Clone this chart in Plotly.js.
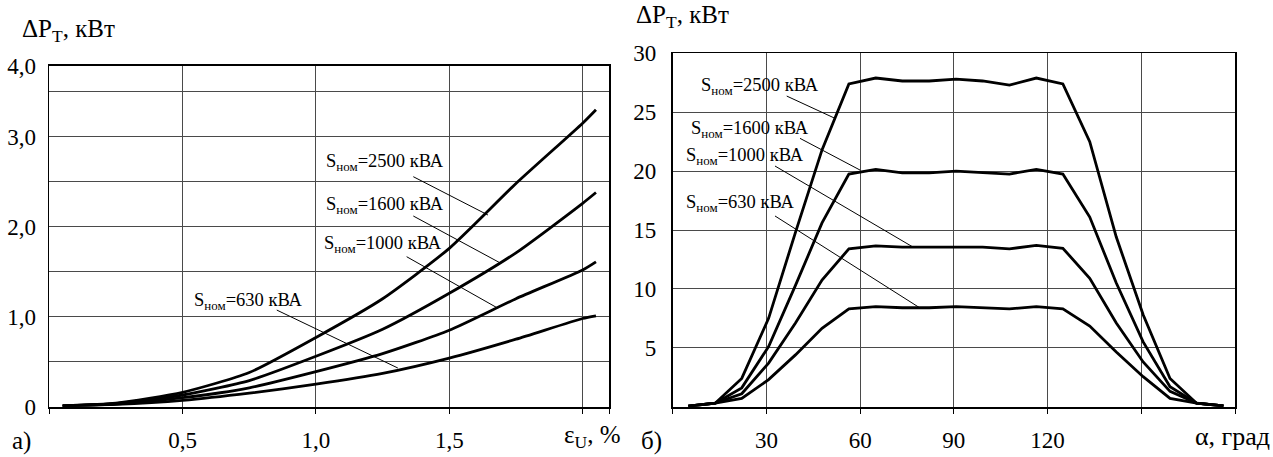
<!DOCTYPE html>
<html>
<head>
<meta charset="utf-8">
<script src="https://cdn.plot.ly/plotly-3.0.1.min.js"></script>
<style>html,body{margin:0;padding:0;background:#fff}#chart{width:1273px;height:457px}</style>
</head>
<body>
<div id="chart"></div>
<script>
// ---- Panel а): ΔP_T vs ε_U, % ----
const epsU = [0.05, 0.25, 0.5, 0.75, 1.0, 1.25, 1.5, 1.75, 2.0, 2.05];
const dpA_2500 = [0.01, 0.04, 0.16, 0.38, 0.77, 1.20, 1.76, 2.48, 3.15, 3.30];
const dpA_1600 = [0.01, 0.035, 0.13, 0.29, 0.56, 0.86, 1.26, 1.71, 2.26, 2.38];
const dpA_1000 = [0.01, 0.03, 0.10, 0.21, 0.39, 0.59, 0.85, 1.20, 1.52, 1.61];
const dpA_630  = [0.01, 0.025, 0.07, 0.15, 0.25, 0.37, 0.54, 0.75, 0.98, 1.01];

// ---- Panel б): ΔP_T vs α, град ----
const alpha = [5, 13.6, 22.1, 30.7, 39.3, 47.8, 56.4, 65, 73.5, 82.1, 90.7, 99.2, 107.8, 116.4, 124.9, 133.5, 142, 150.6, 159.2, 167.7, 176.3];
const dpB_2500 = [0.05, 0.3, 2.4, 7.5, 14.8, 21.8, 27.4, 27.9, 27.65, 27.65, 27.8, 27.65, 27.3, 27.9, 27.4, 22.5, 14.4, 7.8, 2.4, 0.3, 0.07];
const dpB_1600 = [0.05, 0.3, 1.6, 5.1, 10.3, 15.6, 19.75, 20.15, 19.85, 19.85, 20.0, 19.9, 19.75, 20.15, 19.75, 16.1, 10.5, 5.5, 1.7, 0.3, 0.07];
const dpB_1000 = [0.05, 0.3, 1.1, 3.7, 7.1, 10.75, 13.4, 13.65, 13.55, 13.55, 13.55, 13.55, 13.4, 13.7, 13.45, 10.9, 7.1, 3.8, 1.3, 0.3, 0.07];
const dpB_630  = [0.05, 0.3, 0.7, 2.3, 4.4, 6.65, 8.3, 8.5, 8.4, 8.4, 8.5, 8.4, 8.3, 8.5, 8.3, 6.85, 4.65, 2.55, 0.7, 0.3, 0.07];

const seriesNames = ['2500', '1600', '1000', '630'];

// tick labels
const xA_tickvals = [0, 0.5, 1.0, 1.5, 2.0, 2.1];
const xA_ticktext = ['', '0,5', '1,0', '1,5', '', ''];
const yA_tickvals = [0, 0.5, 1.0, 1.5, 2.0, 2.5, 3.0, 3.5, 3.786];
const yA_ticktext = ['0', '', '1,0', '', '2,0', '', '3,0', '', '4,0'];
const xB_tickvals = [0, 30, 60, 90, 120, 150, 180];
const xB_ticktext = ['', '30', '60', '90', '120', '', ''];
const yB_tickvals = [0, 5, 10, 15, 20, 25, 30];
const yB_ticktext = ['', '5', '10', '15', '20', '25', '30'];

const FONT = 'Liberation Serif';
const W = 1273, H = 457;
const px = v => v / W;
const py = v => 1 - v / H;

const aSeries = [dpA_2500, dpA_1600, dpA_1000, dpA_630];
const bSeries = [dpB_2500, dpB_1600, dpB_1000, dpB_630];

const traces = [];
aSeries.forEach((ys, i) => traces.push({
  x: epsU, y: ys, xaxis: 'x', yaxis: 'y', mode: 'lines', name: seriesNames[i],
  line: {color: '#000', width: 2.8, shape: 'spline', smoothing: 0.6},
  hoverinfo: 'skip', showlegend: false
}));
bSeries.forEach((ys, i) => traces.push({
  x: alpha, y: ys, xaxis: 'x2', yaxis: 'y2', mode: 'lines', name: seriesNames[i],
  line: {color: '#000', width: 2.8},
  hoverinfo: 'skip', showlegend: false
}));

const axisCommon = {
  showline: true, mirror: true, linecolor: '#000', linewidth: 1.8,
  showgrid: true, gridcolor: '#4a4a4a', gridwidth: 1,
  zeroline: false, tickmode: 'array', fixedrange: true,
  tickfont: {family: FONT, size: 23, color: '#000'}
};

const layout = {
  width: W, height: H,
  margin: {l: 0, r: 0, t: 0, b: 0, pad: 0},
  paper_bgcolor: '#fff', plot_bgcolor: '#fff',
  font: {family: FONT, color: '#000', size: 20},
  xaxis: Object.assign({}, axisCommon, {
    domain: [px(49.3), px(609.3)], range: [0, 2.1], anchor: 'y',
    tickvals: xA_tickvals, ticktext: xA_ticktext,
    ticks: 'outside', ticklen: 5, tickcolor: '#000', tickwidth: 1, ticklabelstandoff: 7
  }),
  yaxis: Object.assign({}, axisCommon, {
    domain: [1 - 406.7 / H, 1 - 66 / H], range: [0, 3.786], anchor: 'x',
    tickvals: yA_tickvals, ticktext: yA_ticktext,
    ticks: 'outside', ticklen: 5, tickcolor: 'rgba(0,0,0,0)', ticklabelstandoff: 2
  }),
  xaxis2: Object.assign({}, axisCommon, {
    domain: [px(672.7), px(1235)], range: [0, 180], anchor: 'y2',
    tickvals: xB_tickvals, ticktext: xB_ticktext,
    ticks: 'outside', ticklen: 5, tickcolor: '#000', tickwidth: 1, ticklabelstandoff: 7
  }),
  yaxis2: Object.assign({}, axisCommon, {
    domain: [1 - 406.7 / H, 1 - 53.3 / H], range: [0, 30], anchor: 'x2',
    tickvals: yB_tickvals, ticktext: yB_ticktext,
    ticks: 'outside', ticklen: 5, tickcolor: 'rgba(0,0,0,0)', ticklabelstandoff: 5
  }),
  annotations: [],
  shapes: []
};

const ann = (text, x, y, xref, yref, xanchor, yanchor, size) => layout.annotations.push({
  text, x, y, xref, yref, xanchor, yanchor, showarrow: false,
  font: {family: FONT, size: size, color: '#000'}
});

// Axis titles and panel letters
ann('ΔP<sub>T</sub>, кВт', px(20), py(30), 'paper', 'paper', 'left', 'middle', 25);
ann('ΔP<sub>T</sub>, кВт', px(634), py(17), 'paper', 'paper', 'left', 'middle', 25);
ann('ε<sub>U</sub>, %', px(622), py(436), 'paper', 'paper', 'right', 'middle', 25);
ann('α, град', px(1272), py(436), 'paper', 'paper', 'right', 'middle', 26);
ann('а)', px(10), py(457), 'paper', 'paper', 'left', 'bottom', 25);
ann('б)', px(639), py(457), 'paper', 'paper', 'left', 'bottom', 25);

// Curve labels with leader lines
const labelA = [
  {t: '2500', x: 1.030, y: 2.711, l: [1.365, 2.556, 1.645, 2.130]},
  {t: '1600', x: 1.030, y: 2.241, l: [1.365, 2.119, 1.687, 1.604]},
  {t: '1000', x: 1.023, y: 1.797, l: [1.340, 1.667, 1.683, 1.093]},
  {t: '630',  x: 0.535, y: 1.167, l: [0.853, 1.074, 1.307, 0.430]}
];
const labelB = [
  {t: '2500', x: 8.5, y: 27.2, l: [36.5, 26.37, 51.95, 24.48]},
  {t: '1600', x: 5.3, y: 23.55, l: [40.75, 22.78, 59.96, 20.09]},
  {t: '1000', x: 3.7, y: 21.22, l: [32.75, 20.43, 76.86, 13.56]},
  {t: '630',  x: 3.7, y: 17.27, l: [32.75, 16.19, 79.16, 8.38]}
];
const addLabels = (list, xr, yr) => list.forEach(o => {
  ann('S<sub>ном</sub>=' + o.t + ' кВА', o.x, o.y, xr, yr, 'left', 'middle', 18.5);
  layout.shapes.push({type: 'line', xref: xr, yref: yr,
    x0: o.l[0], y0: o.l[1], x1: o.l[2], y1: o.l[3],
    line: {color: '#000', width: 1}});
});
addLabels(labelA, 'x', 'y');
addLabels(labelB, 'x2', 'y2');

Plotly.newPlot('chart', traces, layout, {staticPlot: true, displayModeBar: false});
</script>
</body>
</html>
